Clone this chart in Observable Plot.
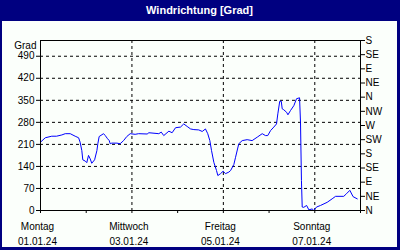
<!DOCTYPE html>
<html><head><meta charset="utf-8">
<script src="https://cdn.jsdelivr.net/npm/d3@7"></script>
<script src="https://cdn.jsdelivr.net/npm/@observablehq/plot@0.6"></script>
<style>
html,body{margin:0;padding:0;background:#fff;}
#chart{width:400px;height:250px;background:#000080;box-sizing:border-box;padding:0 3px 3px 2px;font-family:"Liberation Sans",Arial,sans-serif;}
#title{height:21px;color:#fff;font-weight:bold;font-size:11px;text-align:center;line-height:21px;}
#panel{width:395px;height:226px;background:#fbfffb;}
#panel svg{display:block;}
</style></head>
<body>
<div id="chart"><div id="title">Windrichtung [Grad]</div><div id="panel"></div></div>
<script>
// Hours since 01.01.24 00:00 and wind direction in degrees
const hours = [0,2.5,5.9,8.4,11.2,13,15.6,18.2,20,20.8,21.7,22.2,23.5,24.3,25.2,26.1,26.9,28.4,29.6,30.1,30.8,33.1,34,35.2,36.1,36.6,37.4,40.1,41.8,43.6,45.3,47.1,49.7,51.5,56,56.9,62.1,63.4,64.7,67.4,69.1,70.9,73.5,75.2,77,78.8,80.5,83.1,84.9,86.6,87.8,88.9,89.8,91,92.4,93.1,94.5,95.9,97.1,98.9,99.8,101.5,102.4,104.1,105.9,108.5,111.1,113.8,116.4,118.1,119.3,120.8,122.5,123.9,124.6,125.6,126.4,126.9,127.7,129.2,129.9,131.3,133,134.4,136,136.5,137,137.4,138.2,139.7,140.9,142.6,143.5,144.9,147,150.5,153.1,154.9,159.2,160.6,162.4,164.1,166.3];
const degrees = [217,231,236,236,240,244,244,236,231,217,190,161,157,152,175,164,150,161,190,212,235,244,238,228,222,212,214,214,212,222,235,244,242,244,243,247,244,249,238,252,247,263,265,275,267,259,257,256,251,259,244,222,190,153,127,111,117,125,117,122,127,146,169,212,222,225,222,233,244,238,238,254,265,275,307,347,347,323,320,312,304,318,333,355,358,280,95,11,10,16,2,5,0,11,16,26,37,45,45,53,64,44,37];
const leftTicks = [0,70,140,210,280,350,420,490];
const rightTicks = [0,45,90,135,180,225,270,315,360,405,450,495,540];
const rightLabels = ["N","NE","E","SE","S","SW","W","NW","N","NE","E","SE","S"];
const dayNames = ["Montag","Mittwoch","Freitag","Sonntag"];
const dayDates = ["01.01.24","03.01.24","05.01.24","07.01.24"];
const yLabel = "Grad";

const t0 = Date.UTC(2024,0,1);
const data = hours.map((h,i)=>({t:new Date(t0 + h*3600e3), v:degrees[i]}));
const parseD = s => { const [d,m,y] = s.split("."); return new Date(Date.UTC(2000+ +y, +m-1, +d)); };
const labelTicks = dayDates.map(parseD);
const allDays = d3.utcDay.range(new Date(t0), new Date(t0 + 7*864e5 + 1));
const xDomain = [new Date(t0), new Date(t0 + 7*864e5)];

const chart = Plot.plot({
  width: 395, height: 226,
  marginLeft: 38, marginRight: 37, marginTop: 19, marginBottom: 37,
  style: {fontFamily: '"Liberation Sans", Arial, sans-serif', fontSize: "10px", background: "transparent", color: "black"},
  x: {type: "utc", domain: xDomain},
  y: {domain: [0, 540]},
  marks: [
    Plot.gridY(leftTicks.slice(1), {stroke: "black", strokeOpacity: 1, strokeDasharray: "3,3"}),
    Plot.gridX(labelTicks.slice(1), {stroke: "black", strokeOpacity: 1, strokeDasharray: "3,3"}),
    Plot.line(data, {x: "t", y: "v", stroke: "#0000ff", strokeWidth: 1}),
    Plot.frame({stroke: "black"}),
    Plot.axisY(leftTicks, {anchor: "left", tickSize: 4, tickPadding: 2, label: null}),
    Plot.axisY(rightTicks, {anchor: "right", tickSize: 4, tickPadding: 1, label: null, tickFormat: d => rightLabels[rightTicks.indexOf(d)]}),
    Plot.axisX(allDays, {anchor: "bottom", tickSize: 3, tickFormat: () => "", label: null}),
    Plot.axisX(labelTicks, {anchor: "bottom", tickSize: 0, tickPadding: 9, dx: -3, lineHeight: 1.5, label: null,
      tickFormat: d => { const i = labelTicks.findIndex(x => +x === +d); return dayNames[i] + "\n" + dayDates[i]; }}),
    Plot.text([yLabel], {frameAnchor: "top-left", dx: -4, dy: 1, textAnchor: "end"})
  ]
});
document.getElementById("panel").appendChild(chart);
</script>
</body></html>
